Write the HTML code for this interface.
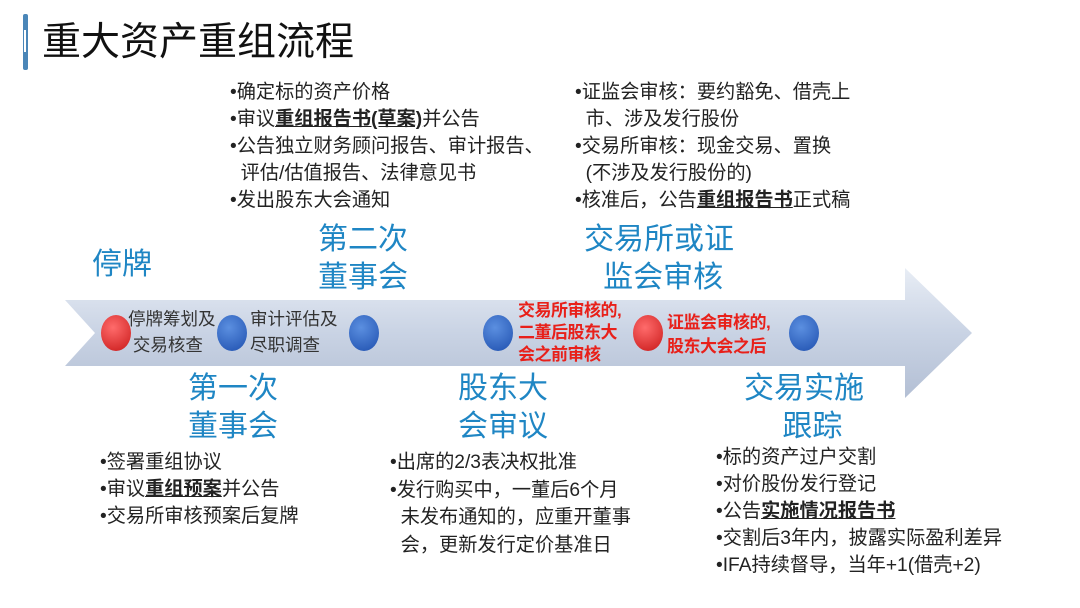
<!DOCTYPE html>
<html><head><meta charset="utf-8"><style>
body{margin:0;width:1080px;height:608px;background:#fff;position:relative;overflow:hidden;font-family:"Liberation Sans","Noto Sans CJK SC",sans-serif}
.t{position:absolute;white-space:nowrap;color:#222;font-size:19.2px;line-height:27px}
.b{position:absolute;white-space:nowrap;color:#1f86c4;font-size:30px;line-height:38px;text-align:center}
.r{position:absolute;white-space:nowrap;color:#e8201a;font-size:17px;font-weight:bold;line-height:20px;letter-spacing:-0.5px}
.c{position:absolute;width:30px;height:36px;border-radius:50%}
.bl{background:radial-gradient(circle at 40% 35%,#5b8fe0,#1e4fae)}
.rd{background:radial-gradient(circle at 40% 35%,#ff6b6b,#c81818)}
u{font-weight:bold}
</style></head><body>
<div style="position:absolute;left:23px;top:14px;width:5px;height:56px;background:#4a86b8;border-radius:2px"></div>
<div style="position:absolute;left:24px;top:30px;width:2px;height:22px;background:#fff"></div>
<div class="t" style="left:42px;top:17px;font-size:39px;line-height:52px;color:#111">重大资产重组流程</div>
<svg style="position:absolute;left:0;top:0" width="1080" height="608">
<defs><linearGradient id="g" x1="0" y1="0" x2="0" y2="1"><stop offset="0" stop-color="#e8edf5"/><stop offset="0.5" stop-color="#c9d3e4"/><stop offset="1" stop-color="#b3bfd4"/></linearGradient></defs>
<polygon points="65,300 905,300 905,268 972,333 905,398 905,366 65,366 95,333" fill="url(#g)"/>
</svg>
<div class="c rd" style="left:101px;top:315px"></div>
<div class="c bl" style="left:217px;top:315px"></div>
<div class="c bl" style="left:349px;top:315px"></div>
<div class="c bl" style="left:483px;top:315px"></div>
<div class="c rd" style="left:633px;top:315px"></div>
<div class="c bl" style="left:789px;top:315px"></div>
<div class="t" style="left:128px;top:306px;font-size:17.5px;line-height:26px;color:#333">停牌筹划及<br>&nbsp;交易核查</div>
<div class="t" style="left:250px;top:306px;font-size:17.5px;line-height:26px;color:#333">审计评估及<br>尽职调查</div>
<div class="r" style="left:518px;top:300px;line-height:22px">交易所审核的,<br>二董后股东大<br>会之前审核</div>
<div class="r" style="left:667px;top:311px;line-height:24px">证监会审核的,<br>股东大会之后</div>
<div class="b" style="left:92px;top:246px;text-align:left">停牌</div>
<div class="b" style="left:318px;top:221px">第二次<br>董事会</div>
<div class="b" style="left:584px;top:221px">交易所或证<br>&nbsp;监会审核</div>
<div class="b" style="left:188px;top:370px">第一次<br>董事会</div>
<div class="b" style="left:458px;top:370px">股东大<br>会审议</div>
<div class="b" style="left:744px;top:370px">交易实施<br>&nbsp;&nbsp;跟踪</div>
<div class="t" style="left:230px;top:79px">•确定标的资产价格<br>•审议<u>重组报告书(草案)</u>并公告<br>•公告独立财务顾问报告、审计报告、<br>&nbsp;&nbsp;评估/估值报告、法律意见书<br>•发出股东大会通知</div>
<div class="t" style="left:575px;top:79px">•证监会审核：要约豁免、借壳上<br>&nbsp;&nbsp;市、涉及发行股份<br>•交易所审核：现金交易、置换<br>&nbsp;&nbsp;(不涉及发行股份的)<br>•核准后，公告<u>重组报告书</u>正式稿</div>
<div class="t" style="left:100px;top:449px">•签署重组协议<br>•审议<u>重组预案</u>并公告<br>•交易所审核预案后复牌</div>
<div class="t" style="left:390px;top:449px;line-height:27.5px">•出席的2/3表决权批准<br>•发行购买中，一董后6个月<br>&nbsp;&nbsp;未发布通知的，应重开董事<br>&nbsp;&nbsp;会，更新发行定价基准日</div>
<div class="t" style="left:716px;top:444px">•标的资产过户交割<br>•对价股份发行登记<br>•公告<u>实施情况报告书</u><br>•交割后3年内，披露实际盈利差异<br>•IFA持续督导，当年+1(借壳+2)</div>
</body></html>
